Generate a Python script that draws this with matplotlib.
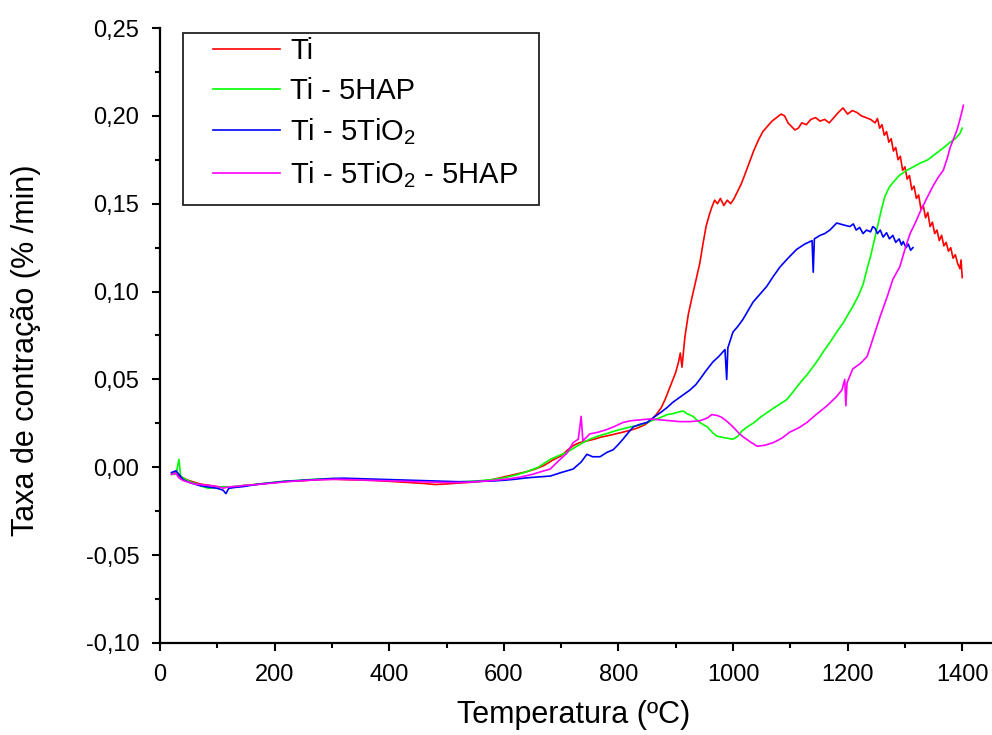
import matplotlib
matplotlib.use("Agg")
import matplotlib.pyplot as plt
import matplotlib.patches as patches
from matplotlib.ticker import MultipleLocator, FuncFormatter

plt.rcParams['font.family'] = ['Liberation Sans', 'DejaVu Sans']
plt.rcParams['mathtext.fontset'] = 'custom'
plt.rcParams['mathtext.rm'] = 'Liberation Sans'
plt.rcParams['mathtext.it'] = 'Liberation Sans'

# Ti
ti_temp = [20, 28, 33, 40, 50, 60, 70, 80, 90, 100, 110, 120, 130, 145, 160, 175, 190, 205, 220, 240,
           260, 280, 300, 320, 340, 360, 380, 400, 420, 440, 460, 480, 500, 520, 540, 560, 580, 600, 620, 640,
           655, 670, 685, 700, 712, 722, 732, 745, 758, 770, 782, 795, 808, 820, 832, 845, 856, 866, 875, 882,
           888, 894, 900, 905, 908, 911, 916, 922, 928, 935, 942, 948, 953, 958, 963, 968, 973, 978, 984, 990,
           996, 1002, 1008, 1014, 1020, 1028, 1036, 1044, 1052, 1060, 1068, 1076, 1084, 1090, 1096, 1102, 1108,
           1114, 1120, 1128, 1136, 1144, 1152, 1160, 1168, 1176, 1184, 1192, 1200, 1208, 1216, 1224, 1232, 1240,
           1248, 1252, 1256, 1260, 1264, 1268, 1272, 1276, 1280, 1284, 1288, 1292, 1296, 1300, 1304, 1308, 1312,
           1316, 1320, 1324, 1328, 1332, 1336, 1340, 1344, 1348, 1352, 1356, 1360, 1364, 1368, 1372, 1376, 1380,
           1384, 1388, 1392, 1396, 1398, 1400]
ti_rate = [-0.004, -0.003, -0.005, -0.006, -0.0075, -0.0085, -0.0095, -0.0100, -0.0105, -0.0110, -0.0115,
           -0.0112, -0.0110, -0.0105, -0.0100, -0.0095, -0.0090, -0.0085, -0.0080, -0.0078, -0.0074, -0.0070,
           -0.0068, -0.0070, -0.0072, -0.0074, -0.0076, -0.0080, -0.0084, -0.0088, -0.0092, -0.0098, -0.0095,
           -0.0090, -0.0086, -0.0080, -0.0070, -0.0055, -0.0040, -0.0025, -0.0010, 0.0010, 0.0040, 0.0065,
           0.0100, 0.0125, 0.0140, 0.0150, 0.0160, 0.0172, 0.0180, 0.0190, 0.0200, 0.0210, 0.0222, 0.0240,
           0.0265, 0.0300, 0.0340, 0.0390, 0.0440, 0.0490, 0.0540, 0.0600, 0.0650, 0.0570, 0.0740, 0.0870,
           0.0960, 0.1060, 0.1160, 0.1280, 0.1370, 0.1430, 0.1480, 0.1520, 0.1500, 0.1530, 0.1490, 0.1520,
           0.1500, 0.1530, 0.1570, 0.1610, 0.1660, 0.1730, 0.1800, 0.1860, 0.1910, 0.1940, 0.1970, 0.1990,
           0.2010, 0.2000, 0.1960, 0.1940, 0.1920, 0.1930, 0.1960, 0.1950, 0.1980, 0.1990, 0.1970, 0.1980,
           0.1960, 0.1990, 0.2020, 0.2045, 0.2010, 0.2030, 0.2020, 0.2000, 0.1990, 0.1980,
           0.1960, 0.1985, 0.1930, 0.1950, 0.1890, 0.1910, 0.1850, 0.1870, 0.1800, 0.1820, 0.1750, 0.1770,
           0.1690, 0.1710, 0.1640, 0.1660, 0.1580, 0.1600, 0.1530, 0.1550, 0.1470, 0.1490, 0.1420, 0.1450,
           0.1370, 0.1395, 0.1330, 0.1350, 0.1290, 0.1320, 0.1260, 0.1280, 0.1230, 0.1250, 0.1190, 0.1210,
           0.1160, 0.1130, 0.1180, 0.1080]

# Ti - 5HAP
hap_temp = [20, 28, 33, 36, 45, 55, 65, 75, 85, 95, 110, 125, 140, 160, 180, 200, 220, 240, 260, 280,
            300, 320, 340, 360, 380, 400, 420, 440, 460, 480, 500, 520, 540, 560, 580, 600, 620, 640, 660, 681,
            695, 710, 725, 738, 750, 765, 780, 792, 803, 815, 828, 838, 850, 862, 875, 885, 895, 905, 913, 920,
            930, 942, 955, 965, 972, 985, 1000, 1008, 1015, 1025, 1037, 1048, 1059, 1070, 1082, 1094, 1105, 1117,
            1130, 1146, 1158, 1169, 1180, 1192, 1200, 1209, 1218, 1227, 1234, 1240, 1245, 1250, 1255, 1260, 1265,
            1272, 1279, 1290, 1303, 1315, 1326, 1340, 1356, 1368, 1379, 1388, 1396, 1400]
hap_rate = [-0.004, -0.004, 0.0045, -0.005, -0.007, -0.0085, -0.0095, -0.0110, -0.0120, -0.0115, -0.0110,
            -0.0112, -0.0105, -0.0100, -0.0092, -0.0085, -0.0078, -0.0075, -0.0070, -0.0066, -0.0064, -0.0066,
            -0.0068, -0.0070, -0.0072, -0.0074, -0.0076, -0.0078, -0.0080, -0.0082, -0.0084, -0.0083, -0.0080,
            -0.0076, -0.0070, -0.0060, -0.0045, -0.0025, 0.0000, 0.0045, 0.0065, 0.0085, 0.0115, 0.0140,
            0.0160, 0.0178, 0.0192, 0.0205, 0.0215, 0.0225, 0.0235, 0.0240, 0.0255, 0.0270, 0.0285, 0.0300,
            0.0305, 0.0315, 0.0320, 0.0305, 0.0290, 0.0255, 0.0230, 0.0195, 0.0177, 0.0168, 0.0160, 0.0175,
            0.0205, 0.0230, 0.0255, 0.0285, 0.0310, 0.0335, 0.0360, 0.0386, 0.0430, 0.0480, 0.0530, 0.0600,
            0.0660, 0.0710, 0.0765, 0.0820, 0.0865, 0.0915, 0.0970, 0.1040, 0.1130, 0.1200, 0.1270, 0.1340,
            0.1410, 0.1480, 0.1540, 0.1590, 0.1620, 0.1660, 0.1690, 0.1710, 0.1730, 0.1750, 0.1790, 0.1820,
            0.1850, 0.1870, 0.1900, 0.1930]

# Ti - 5TiO2
tio2_temp = [20, 28, 33, 40, 50, 60, 70, 80, 90, 100, 110, 115, 120, 130, 145, 160, 175, 190, 205, 220,
             240, 260, 280, 300, 320, 340, 360, 380, 400, 420, 440, 460, 480, 500, 520, 540, 560, 580, 600, 620,
             640, 660, 681, 700, 721, 735, 745, 755, 768, 780, 791, 800, 808, 818, 826, 838, 850, 862, 873, 885,
             895, 910, 925, 935, 942, 953, 965, 975, 986, 989, 991, 1000, 1008, 1017, 1026, 1035, 1047, 1059, 1070,
             1082, 1096, 1111, 1125, 1138, 1140, 1142, 1152, 1160, 1169, 1181, 1192, 1204, 1210, 1215, 1221, 1227,
             1233, 1240, 1244, 1248, 1252, 1257, 1262, 1268, 1273, 1279, 1284, 1290, 1294, 1297, 1302, 1306, 1310,
             1314]
tio2_rate = [-0.003, -0.002, -0.004, -0.007, -0.0085, -0.0095, -0.0105, -0.0110, -0.0115, -0.0120, -0.0130,
             -0.0150, -0.0120, -0.0115, -0.0110, -0.0102, -0.0095, -0.0090, -0.0085, -0.0080, -0.0076, -0.0072,
             -0.0068, -0.0064, -0.0062, -0.0064, -0.0066, -0.0068, -0.0070, -0.0072, -0.0074, -0.0076, -0.0078,
             -0.0080, -0.0082, -0.0082, -0.0080, -0.0078, -0.0074, -0.0068, -0.0060, -0.0055, -0.0050, -0.0030,
             -0.0010, 0.0030, 0.0074, 0.0060, 0.0060, 0.0085, 0.0100, 0.0130, 0.0160, 0.0200, 0.0230, 0.0245,
             0.0255, 0.0285, 0.0310, 0.0340, 0.0370, 0.0405, 0.0440, 0.0470, 0.0500, 0.0550, 0.0600, 0.0630,
             0.0670, 0.0500, 0.0680, 0.0770, 0.0800, 0.0840, 0.0890, 0.0940, 0.0985, 0.1030, 0.1085, 0.1140,
             0.1190, 0.1240, 0.1270, 0.1290, 0.1110, 0.1300, 0.1320, 0.1330, 0.1350, 0.1390, 0.1380, 0.1370,
             0.1385, 0.1350, 0.1365, 0.1330, 0.1350, 0.1340, 0.1370, 0.1360, 0.1330, 0.1350, 0.1310, 0.1335,
             0.1300, 0.1320, 0.1280, 0.1300, 0.1265, 0.1285, 0.1250, 0.1270, 0.1235, 0.1250]

# Ti - 5TiO2 - 5HAP
mix_temp = [20, 28, 33, 40, 50, 60, 75, 90, 100, 110, 120, 135, 150, 170, 190, 210, 230, 250, 270, 290,
            310, 330, 350, 370, 390, 410, 430, 450, 470, 490, 510, 530, 550, 570, 590, 610, 630, 650, 665, 681,
            695, 710, 721, 730, 735, 738, 750, 765, 780, 795, 808, 822, 838, 855, 873, 890, 907, 925, 942, 955,
            963, 972, 980, 990, 1000, 1010, 1017, 1030, 1042, 1055, 1070, 1085, 1099, 1115, 1129, 1145, 1164,
            1180, 1190, 1195, 1197, 1199, 1209, 1222, 1234, 1244, 1257, 1269, 1279, 1291, 1300, 1309, 1318, 1326,
            1338, 1349, 1358, 1367, 1374, 1379, 1385, 1391, 1396, 1400, 1402]
mix_rate = [-0.004, -0.0035, -0.006, -0.0075, -0.0085, -0.0095, -0.0100, -0.0105, -0.0110, -0.0118, -0.0112,
            -0.0108, -0.0102, -0.0098, -0.0092, -0.0086, -0.0080, -0.0076, -0.0072, -0.0070, -0.0068, -0.0070,
            -0.0072, -0.0074, -0.0076, -0.0078, -0.0080, -0.0082, -0.0084, -0.0086, -0.0087, -0.0086, -0.0082,
            -0.0078, -0.0072, -0.0065, -0.0055, -0.0040, -0.0025, -0.0010, 0.0035, 0.0080, 0.0140, 0.0160,
            0.0290, 0.0150, 0.0190, 0.0200, 0.0215, 0.0235, 0.0255, 0.0265, 0.0270, 0.0275, 0.0270, 0.0265,
            0.0260, 0.0260, 0.0265, 0.0280, 0.0300, 0.0295, 0.0285, 0.0260, 0.0230, 0.0195, 0.0175, 0.0145,
            0.0120, 0.0125, 0.0140, 0.0165, 0.0200, 0.0225, 0.0255, 0.0300, 0.0350, 0.0400, 0.0440, 0.0500,
            0.0350, 0.0480, 0.0560, 0.0590, 0.0630, 0.0730, 0.0860, 0.0970, 0.1070, 0.1140, 0.1240, 0.1330,
            0.1390, 0.1450, 0.1530, 0.1600, 0.1650, 0.1690, 0.1760, 0.1820, 0.1870, 0.1920, 0.1980, 0.2030,
            0.2060]

labels = ['Ti', 'Ti - 5HAP', 'Ti - 5TiO$_2$', 'Ti - 5TiO$_2$ - 5HAP']
colors = ['#ff0000', '#00ff00', '#0000ff', '#ff00ff']

fig = plt.figure(figsize=(9.92, 7.35), dpi=100)
ax = fig.add_axes([160 / 992, 92 / 735, 832 / 992, 615 / 735])

series = [(ti_temp, ti_rate), (hap_temp, hap_rate), (tio2_temp, tio2_rate), (mix_temp, mix_rate)]
for (t, r), lab, c in zip(series, labels, colors):
    ax.plot(t, r, color=c, linewidth=1.2, label=lab)

ax.set_xlim(0, 1452)
ax.set_ylim(-0.10, 0.25)
ax.xaxis.set_major_locator(MultipleLocator(200))
ax.xaxis.set_minor_locator(MultipleLocator(100))
ax.yaxis.set_major_locator(MultipleLocator(0.05))
ax.yaxis.set_minor_locator(MultipleLocator(0.025))
ax.yaxis.set_major_formatter(FuncFormatter(lambda v, p: f"{v:.2f}".replace('.', ',')))

for s in ['top', 'right']:
    ax.spines[s].set_visible(False)
for s in ['left', 'bottom']:
    ax.spines[s].set_linewidth(1.6)
ax.tick_params(which='major', direction='out', length=6, width=1.5, labelsize=17, pad=9)
ax.tick_params(which='minor', direction='out', length=3.5, width=1.5)

ax.set_xlabel('Temperatura (ºC)', fontsize=22)
ax.set_ylabel('Taxa de contração (% /min)', fontsize=22)
ax.xaxis.set_label_coords(0.4976, -0.093)
ax.yaxis.set_label_coords(-0.143, 0.476)

leg = ax.legend(loc='upper left', bbox_to_anchor=(0.0637, 0.985), frameon=False, fontsize=21,
                handlelength=2.3, handletextpad=0.35, labelspacing=0.4, borderpad=0, borderaxespad=0)
ax.add_patch(patches.Rectangle((0.0276, 0.712), 0.428, 0.280, transform=ax.transAxes,
                               fill=False, edgecolor='#222222', linewidth=1.3, clip_on=False))

fig.savefig('out.png', dpi=100)
